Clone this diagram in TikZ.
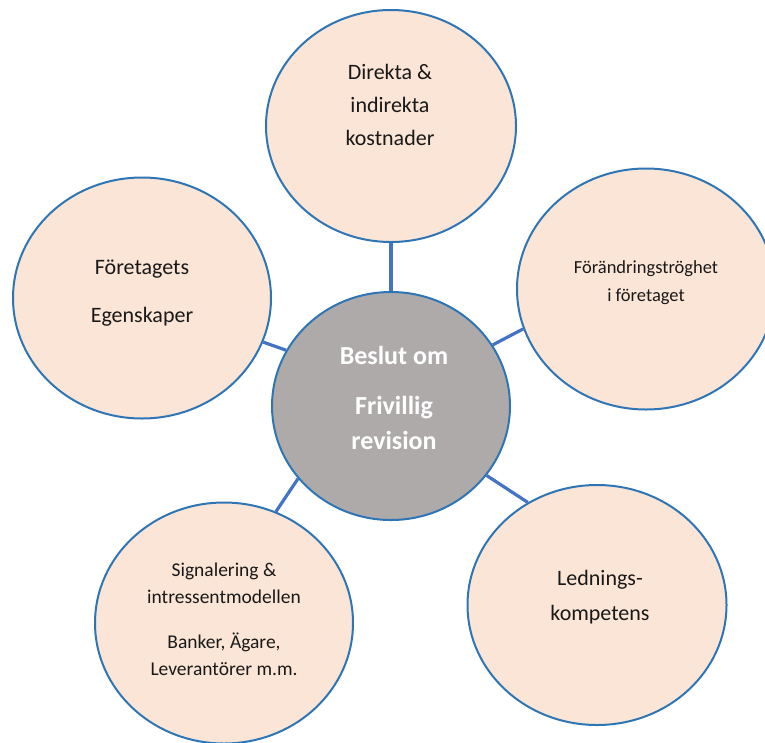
\documentclass[tikz,border=0pt]{standalone}
\usepackage{fontspec}
\setmainfont{Carlito}
\usetikzlibrary{shapes.geometric}
\definecolor{peach}{HTML}{FBE5D6}
\definecolor{rim}{HTML}{2E75B6}
\definecolor{link}{HTML}{4472C4}
\definecolor{hubgray}{HTML}{AEAAAA}

\begin{document}
\begin{tikzpicture}[x=1pt, y=-1pt,
  main/.style = {draw=rim, line width=2pt, fill=peach, ellipse, inner sep=0pt},
  hub/.style = {main, fill=hubgray},
  txt/.style = {align=center, text=black!90, inner sep=0pt},
  spoke/.style = {draw=link, line width=3.2pt}]
\useasboundingbox (0,0) rectangle (765,742);
% bubbles
\node[hub, minimum width=238pt, minimum height=228pt] (hub) at (391,406) {};
\node[main, minimum width=250pt, minimum height=232pt] (kost) at (391,126) {};
\node[main, minimum width=258pt, minimum height=241pt] (egen) at (142,298) {};
\node[main, minimum width=258pt, minimum height=241pt] (trog) at (646,289) {};
\node[main, minimum width=258pt, minimum height=241pt] (sign) at (224,623) {};
\node[main, minimum width=259pt, minimum height=240pt] (led) at (597,605) {};
% spokes
\draw[spoke] (hub) -- (kost);
\draw[spoke] (hub.152) -- (egen.-20);
\draw[spoke] (hub.31) -- (trog.198);
\draw[spoke] (hub.218) -- (sign.65);
\draw[spoke] (hub.-36) -- (led.124);
% texts
\node[txt, text=white, font=\bfseries\fontsize{26}{35}\selectfont] (hub-t) at (394,398) {Beslut om\\[15pt]Frivillig\\revision};
\node[txt, font=\fontsize{22}{33}\selectfont] (kost-t) at (390,105) {Direkta \&\\indirekta\\kostnader};
\node[txt, font=\fontsize{22}{48}\selectfont] (egen-t) at (142,293) {Företagets\\Egenskaper};
\node[txt, font=\fontsize{18.5}{28}\selectfont] (trog-t) at (646,283) {Förändringströghet\\i företaget};
\node[txt, font=\fontsize{19.5}{27}\selectfont] (sign-t) at (224,619) {Signalering \&\\intressentmodellen\\[18pt]Banker, Ägare,\\Leverantörer m.m.};
\node[txt, font=\fontsize{22}{35}\selectfont] (led-t) at (600,597) {Lednings-\\kompetens};
\end{tikzpicture}
\end{document}
